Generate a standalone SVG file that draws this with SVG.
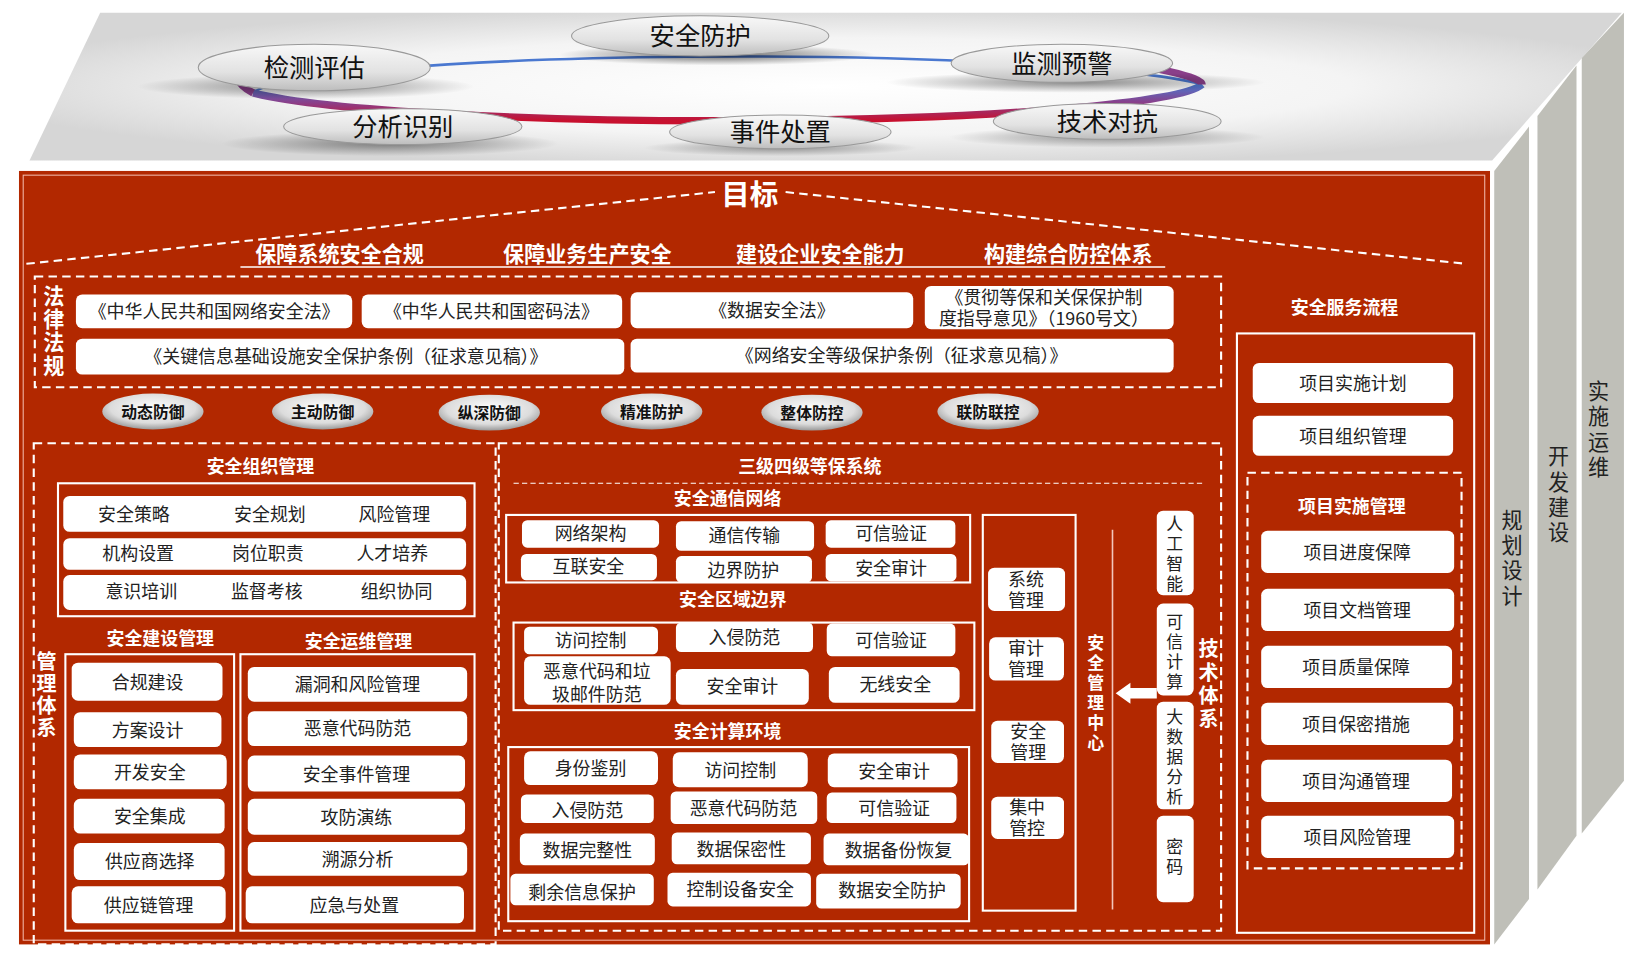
<svg xmlns="http://www.w3.org/2000/svg" width="1645" height="956" viewBox="0 0 1645 956">
<defs>
<style>
text{font-family:"Noto Sans CJK SC","Noto Sans",sans-serif;}
.w{fill:#fff;}
.t{font-size:17px;fill:#222;text-anchor:middle;}
.h{font-size:17px;fill:#fff;font-weight:bold;text-anchor:middle;}
.frame{fill:none;stroke:#fff;stroke-width:2;}
.dash{fill:none;stroke:#fff;stroke-width:2;stroke-dasharray:8 5;}
.top{font-size:24px;fill:#111;text-anchor:middle;}
.pill{font-size:15px;font-weight:bold;fill:#111;text-anchor:middle;}
.side{font-size:20px;fill:#222;text-anchor:middle;}
</style>
<radialGradient id="plate" cx="0.5" cy="0.5" r="0.55">
<stop offset="0" stop-color="#ffffff"/><stop offset="0.6" stop-color="#f4f4f4"/><stop offset="1" stop-color="#d6d6d6"/>
</radialGradient>
<linearGradient id="ell" x1="0" y1="0" x2="0" y2="1">
<stop offset="0" stop-color="#f8f8f8"/><stop offset="0.6" stop-color="#e2e2e2"/><stop offset="1" stop-color="#bdbdbd"/>
</linearGradient>
<linearGradient id="ring" x1="0" y1="0" x2="0" y2="1">
<stop offset="0" stop-color="#4a78d0"/><stop offset="0.5" stop-color="#8a3f8a"/><stop offset="1" stop-color="#c8102e"/>
</linearGradient>
<radialGradient id="shadow" cx="0.5" cy="0.5" r="0.5">
<stop offset="0" stop-color="#000" stop-opacity="0.75"/><stop offset="1" stop-color="#000" stop-opacity="0"/>
</radialGradient>
<radialGradient id="pillg" cx="0.5" cy="0.4" r="0.6">
<stop offset="0" stop-color="#ffffff"/><stop offset="0.7" stop-color="#dcdcdc"/><stop offset="1" stop-color="#9a9a9a"/>
</radialGradient>
</defs>
<rect width="1645" height="956" fill="#fff"/>
<g transform="scale(1.0545,1.0552)">
<g id="platform">
<polygon points="28,152 95,12 1538,12 1415,152" fill="url(#plate)"/>
<path d="M 240,88 A 462 38 0 0 1 1140,80" fill="none" stroke="#4a78d0" stroke-width="2.5"/>
<path d="M 240,88 A 462 38 0 0 0 1140,80" fill="none" stroke="url(#ring)" stroke-width="7"/>
<path d="M 1020,52 Q 1140,70 1140,80" fill="none" stroke="#8a3f8a" stroke-width="7"/>
<path d="M 240,88 Q 215,75 240,70" fill="none" stroke="#8a3f8a" stroke-width="7"/>
<ellipse cx="290" cy="82" rx="160" ry="12" fill="url(#shadow)" opacity="0.6"/>
<ellipse cx="680" cy="52" rx="150" ry="10" fill="url(#shadow)" opacity="0.8"/>
<ellipse cx="1020" cy="78" rx="180" ry="10" fill="url(#shadow)" opacity="0.6"/>
<ellipse cx="370" cy="136" rx="160" ry="12" fill="url(#shadow)" opacity="0.6"/>
<ellipse cx="740" cy="140" rx="130" ry="8" fill="url(#shadow)" opacity="0.5"/>
<ellipse cx="1050" cy="130" rx="150" ry="10" fill="url(#shadow)" opacity="0.5"/>
</g>
<g id="n-jcpg"><ellipse cx="298" cy="64" rx="110" ry="22" fill="url(#ell)" stroke="#999"/><text class="top" x="298" y="73">检测评估</text></g>
<g id="n-aqfh"><ellipse cx="664" cy="34" rx="122" ry="19" fill="url(#ell)" stroke="#999"/><text class="top" x="664" y="43">安全防护</text></g>
<g id="n-jcyj"><ellipse cx="1007" cy="60" rx="105" ry="18" fill="url(#ell)" stroke="#999"/><text class="top" x="1007" y="69">监测预警</text></g>
<g id="n-fxsb"><ellipse cx="382" cy="120" rx="113" ry="17" fill="url(#ell)" stroke="#999"/><text class="top" x="382" y="129">分析识别</text></g>
<g id="n-sjcz"><ellipse cx="740" cy="125" rx="105" ry="16" fill="url(#ell)" stroke="#999"/><text class="top" x="740" y="134">事件处置</text></g>
<g id="n-jsdk"><ellipse cx="1050" cy="115" rx="108" ry="17" fill="url(#ell)" stroke="#999"/><text class="top" x="1050" y="124">技术对抗</text></g>

<g id="strips">
<polygon points="1417,162 1450,120 1450,852 1417,895" fill="#bfbfb8"/>
<polygon points="1458,110 1495,62 1495,792 1458,843" fill="#bfbfb8"/>
<polygon points="1500,55 1540,12 1540,740 1500,790" fill="#bfbfb8"/>
<text class="side" x="1434" y="500">规</text><text class="side" x="1434" y="524">划</text><text class="side" x="1434" y="548">设</text><text class="side" x="1434" y="572">计</text>
<text class="side" x="1478" y="440">开</text><text class="side" x="1478" y="464">发</text><text class="side" x="1478" y="488">建</text><text class="side" x="1478" y="512">设</text>
<text class="side" x="1516" y="378">实</text><text class="side" x="1516" y="402">施</text><text class="side" x="1516" y="426">运</text><text class="side" x="1516" y="450">维</text>
</g>

<rect x="18" y="162" width="1395" height="733" fill="#b22800"/>
<rect x="22" y="166" width="1386" height="725" fill="none" stroke="#f2b8a8" stroke-width="1"/>

<g id="goal">
<text x="711" y="194" font-size="27" class="w" text-anchor="middle" font-weight="bold">目标</text>
<line x1="25" y1="250" x2="678" y2="182" class="dash"/>
<line x1="745" y1="182" x2="1390" y2="250" class="dash"/>
<g font-size="20" font-weight="bold" fill="#fff" text-anchor="middle">
<text x="322" y="248">保障系统安全合规</text><text x="557" y="248">保障业务生产安全</text><text x="778" y="248">建设企业安全能力</text><text x="1013" y="248">构建综合防控体系</text>
</g>
<line x1="228" y1="253" x2="1105" y2="253" stroke="#fff" stroke-width="1.5"/>
</g>

<g id="laws">
<rect x="33" y="262" width="1125" height="105" class="dash"/>
<g font-size="20" font-weight="bold" fill="#fff" text-anchor="middle">
<text x="51" y="288">法</text><text x="51" y="310">律</text><text x="51" y="332">法</text><text x="51" y="354">规</text></g>
<rect x="72" y="279" width="262" height="32" rx="6" class="w"/><text class="t" x="203" y="301">《中华人民共和国网络安全法》</text>
<rect x="343" y="279" width="247" height="32" rx="6" class="w"/><text class="t" x="466" y="301">《中华人民共和国密码法》</text>
<rect x="598" y="277" width="268" height="34" rx="6" class="w"/><text class="t" x="732" y="300">《数据安全法》</text>
<rect x="877" y="271" width="236" height="41" rx="6" class="w"/><text class="t" x="990" y="288">《贯彻等保和关保保护制</text><text class="t" x="990" y="308">度指导意见》（1960号文）</text>
<rect x="72" y="321" width="520" height="34" rx="6" class="w"/><text class="t" x="328" y="344">《关键信息基础设施安全保护条例（征求意见稿）》</text>
<rect x="598" y="321" width="515" height="32" rx="6" class="w"/><text class="t" x="855" y="343">《网络安全等级保护条例（征求意见稿）》</text>
</g>

<g id="pills">
<ellipse cx="145" cy="390" rx="48" ry="17" fill="url(#pillg)"/><text class="pill" x="145" y="396">动态防御</text>
<ellipse cx="306" cy="390" rx="48" ry="17" fill="url(#pillg)"/><text class="pill" x="306" y="396">主动防御</text>
<ellipse cx="464" cy="391" rx="48" ry="17" fill="url(#pillg)"/><text class="pill" x="464" y="397">纵深防御</text>
<ellipse cx="618" cy="390" rx="48" ry="17" fill="url(#pillg)"/><text class="pill" x="618" y="396">精准防护</text>
<ellipse cx="770" cy="391" rx="48" ry="17" fill="url(#pillg)"/><text class="pill" x="770" y="397">整体防控</text>
<ellipse cx="937" cy="390" rx="48" ry="17" fill="url(#pillg)"/><text class="pill" x="937" y="396">联防联控</text>
</g>

<g id="mgmt">
<rect x="32" y="420" width="438" height="475" class="dash"/>
<g font-size="19" font-weight="bold" fill="#fff" text-anchor="middle">
<text x="44" y="634">管</text><text x="44" y="655">理</text><text x="44" y="676">体</text><text x="44" y="697">系</text></g>
<text class="h" x="247" y="448">安全组织管理</text>
<rect x="55" y="458" width="395" height="126" class="frame"/>
<rect x="60" y="470" width="382" height="34" rx="6" class="w"/>
<rect x="60" y="510" width="382" height="30" rx="6" class="w"/>
<rect x="60" y="545" width="382" height="33" rx="6" class="w"/>
<text class="t" x="127" y="494">安全策略</text><text class="t" x="256" y="494">安全规划</text><text class="t" x="374" y="494">风险管理</text>
<text class="t" x="131" y="531">机构设置</text><text class="t" x="254" y="531">岗位职责</text><text class="t" x="372" y="531">人才培养</text>
<text class="t" x="134" y="567">意识培训</text><text class="t" x="253" y="567">监督考核</text><text class="t" x="376" y="567">组织协同</text>
<text class="h" x="152" y="611">安全建设管理</text>
<rect x="62" y="620" width="160" height="262" class="frame"/>
<rect x="68" y="628" width="143" height="36" rx="6" class="w"/><text class="t" x="140" y="653">合规建设</text>
<rect x="70" y="675" width="140" height="33" rx="6" class="w"/><text class="t" x="140" y="698">方案设计</text>
<rect x="70" y="715" width="145" height="33" rx="6" class="w"/><text class="t" x="142" y="738">开发安全</text>
<rect x="70" y="757" width="143" height="33" rx="6" class="w"/><text class="t" x="142" y="780">安全集成</text>
<rect x="70" y="799" width="143" height="35" rx="6" class="w"/><text class="t" x="142" y="823">供应商选择</text>
<rect x="68" y="840" width="146" height="35" rx="6" class="w"/><text class="t" x="141" y="864">供应链管理</text>
<text class="h" x="340" y="614">安全运维管理</text>
<rect x="228" y="620" width="222" height="262" class="frame"/>
<rect x="235" y="632" width="208" height="33" rx="6" class="w"/><text class="t" x="339" y="655">漏洞和风险管理</text>
<rect x="235" y="674" width="208" height="33" rx="6" class="w"/><text class="t" x="339" y="697">恶意代码防范</text>
<rect x="235" y="716" width="206" height="34" rx="6" class="w"/><text class="t" x="338" y="740">安全事件管理</text>
<rect x="235" y="757" width="206" height="34" rx="6" class="w"/><text class="t" x="338" y="781">攻防演练</text>
<rect x="235" y="798" width="208" height="32" rx="6" class="w"/><text class="t" x="339" y="821">溯源分析</text>
<rect x="233" y="840" width="207" height="35" rx="6" class="w"/><text class="t" x="336" y="864">应急与处置</text>
</g>

<g id="dengbao">
<rect x="473" y="420" width="685" height="462" class="dash"/>
<text class="h" x="768" y="448" font-size="18">三级四级等保系统</text>
<line x1="487" y1="458" x2="1140" y2="458" stroke="#fff" stroke-width="1" stroke-dasharray="5 3"/>
<text class="h" x="690" y="479">安全通信网络</text>
<rect x="480" y="488" width="440" height="64" class="frame"/>
<rect x="495" y="493" width="130" height="26" rx="5" class="w"/><text class="t" x="560" y="512">网络架构</text>
<rect x="641" y="494" width="131" height="28" rx="5" class="w"/><text class="t" x="706" y="514">通信传输</text>
<rect x="783" y="493" width="123" height="26" rx="5" class="w"/><text class="t" x="845" y="512">可信验证</text>
<rect x="494" y="525" width="129" height="25" rx="5" class="w"/><text class="t" x="558" y="543">互联安全</text>
<rect x="641" y="527" width="129" height="25" rx="5" class="w"/><text class="t" x="705" y="547">边界防护</text>
<rect x="783" y="525" width="124" height="26" rx="5" class="w"/><text class="t" x="845" y="545">安全审计</text>
<text class="h" x="695" y="574">安全区域边界</text>
<rect x="487" y="590" width="437" height="83" class="frame"/>
<rect x="497" y="594" width="127" height="26" rx="5" class="w"/><text class="t" x="560" y="613">访问控制</text>
<rect x="641" y="590" width="130" height="28" rx="5" class="w"/><text class="t" x="706" y="610">入侵防范</text>
<rect x="784" y="591" width="122" height="31" rx="5" class="w"/><text class="t" x="845" y="613">可信验证</text>
<rect x="497" y="622" width="139" height="46" rx="6" class="w"/><text class="t" x="566" y="643">恶意代码和垃</text><text class="t" x="566" y="664">圾邮件防范</text>
<rect x="641" y="634" width="126" height="34" rx="6" class="w"/><text class="t" x="704" y="657">安全审计</text>
<rect x="786" y="632" width="124" height="34" rx="6" class="w"/><text class="t" x="849" y="655">无线安全</text>
<text class="h" x="690" y="699">安全计算环境</text>
<rect x="482" y="708" width="437" height="165" class="frame"/>
<rect x="497" y="712" width="127" height="32" rx="6" class="w"/><text class="t" x="560" y="734">身份鉴别</text>
<rect x="638" y="713" width="128" height="33" rx="6" class="w"/><text class="t" x="702" y="736">访问控制</text>
<rect x="785" y="714" width="123" height="32" rx="6" class="w"/><text class="t" x="848" y="737">安全审计</text>
<rect x="494" y="753" width="126" height="27" rx="5" class="w"/><text class="t" x="557" y="774">入侵防范</text>
<rect x="636" y="750" width="139" height="31" rx="5" class="w"/><text class="t" x="705" y="772">恶意代码防范</text>
<rect x="784" y="751" width="123" height="29" rx="5" class="w"/><text class="t" x="848" y="772">可信验证</text>
<rect x="493" y="790" width="128" height="30" rx="5" class="w"/><text class="t" x="557" y="812">数据完整性</text>
<rect x="637" y="789" width="132" height="30" rx="5" class="w"/><text class="t" x="703" y="811">数据保密性</text>
<rect x="781" y="790" width="138" height="30" rx="5" class="w"/><text class="t" x="852" y="812">数据备份恢复</text>
<rect x="484" y="828" width="136" height="30" rx="5" class="w"/><text class="t" x="552" y="852">剩余信息保护</text>
<rect x="633" y="827" width="136" height="32" rx="5" class="w"/><text class="t" x="702" y="849">控制设备安全</text>
<rect x="774" y="828" width="137" height="33" rx="5" class="w"/><text class="t" x="846" y="850">数据安全防护</text>
</g>

<g id="center">
<rect x="932" y="488" width="88" height="375" class="frame"/>
<rect x="937" y="538" width="73" height="41" rx="6" class="w"/><text class="t" x="973" y="555" font-size="16">系统</text><text class="t" x="973" y="575" font-size="16">管理</text>
<rect x="938" y="604" width="71" height="41" rx="6" class="w"/><text class="t" x="973" y="621" font-size="16">审计</text><text class="t" x="973" y="641" font-size="16">管理</text>
<rect x="940" y="683" width="69" height="40" rx="6" class="w"/><text class="t" x="975" y="699" font-size="16">安全</text><text class="t" x="975" y="719" font-size="16">管理</text>
<rect x="940" y="755" width="69" height="40" rx="6" class="w"/><text class="t" x="974" y="771" font-size="16">集中</text><text class="t" x="974" y="791" font-size="16">管控</text>
<g font-size="16" font-weight="bold" fill="#fff" text-anchor="middle">
<text x="1039" y="615">安</text><text x="1039" y="634">全</text><text x="1039" y="653">管</text><text x="1039" y="672">理</text><text x="1039" y="691">中</text><text x="1039" y="710">心</text></g>
<line x1="1055" y1="502" x2="1055" y2="862" stroke="#f3c7bb" stroke-width="1.5"/>
</g>
<g id="connectors">
<polygon points="1058,657 1072,647 1072,652 1097,652 1097,662 1072,662 1072,667" fill="#fff"/>
</g>
<g id="tech">
<g font-size="16" fill="#222" text-anchor="middle">
<rect x="1097" y="484" width="35" height="80" rx="6" class="w"/><text x="1114" y="502">人</text><text x="1114" y="521">工</text><text x="1114" y="540">智</text><text x="1114" y="559">能</text>
<rect x="1097" y="572" width="35" height="87" rx="6" class="w"/><text x="1114" y="595">可</text><text x="1114" y="614">信</text><text x="1114" y="633">计</text><text x="1114" y="652">算</text>
<rect x="1097" y="665" width="35" height="102" rx="6" class="w"/><text x="1114" y="685">大</text><text x="1114" y="704">数</text><text x="1114" y="723">据</text><text x="1114" y="742">分</text><text x="1114" y="761">析</text>
<rect x="1097" y="773" width="35" height="82" rx="6" class="w"/><text x="1114" y="808">密</text><text x="1114" y="827">码</text>
</g>
<g font-size="19" font-weight="bold" fill="#fff" text-anchor="middle">
<text x="1146" y="622">技</text><text x="1146" y="644">术</text><text x="1146" y="666">体</text><text x="1146" y="688">系</text></g>
</g>

<g id="service">
<text class="h" x="1275" y="298" font-size="18">安全服务流程</text>
<rect x="1173" y="316" width="225" height="568" class="frame"/>
<rect x="1188" y="344" width="190" height="38" rx="6" class="w"/><text class="t" x="1283" y="370">项目实施计划</text>
<rect x="1188" y="394" width="190" height="38" rx="6" class="w"/><text class="t" x="1283" y="420">项目组织管理</text>
<rect x="1183" y="448" width="203" height="375" class="dash"/>
<text class="h" x="1282" y="486" font-size="15">项目实施管理</text>
<rect x="1196" y="503" width="183" height="40" rx="6" class="w"/><text class="t" x="1287" y="530">项目进度保障</text>
<rect x="1196" y="558" width="183" height="40" rx="6" class="w"/><text class="t" x="1287" y="585">项目文档管理</text>
<rect x="1196" y="612" width="181" height="40" rx="6" class="w"/><text class="t" x="1286" y="639">项目质量保障</text>
<rect x="1196" y="666" width="182" height="40" rx="6" class="w"/><text class="t" x="1286" y="693">项目保密措施</text>
<rect x="1196" y="720" width="181" height="40" rx="6" class="w"/><text class="t" x="1286" y="747">项目沟通管理</text>
<rect x="1196" y="773" width="183" height="40" rx="6" class="w"/><text class="t" x="1287" y="800">项目风险管理</text>
</g>
</g>
</svg>
